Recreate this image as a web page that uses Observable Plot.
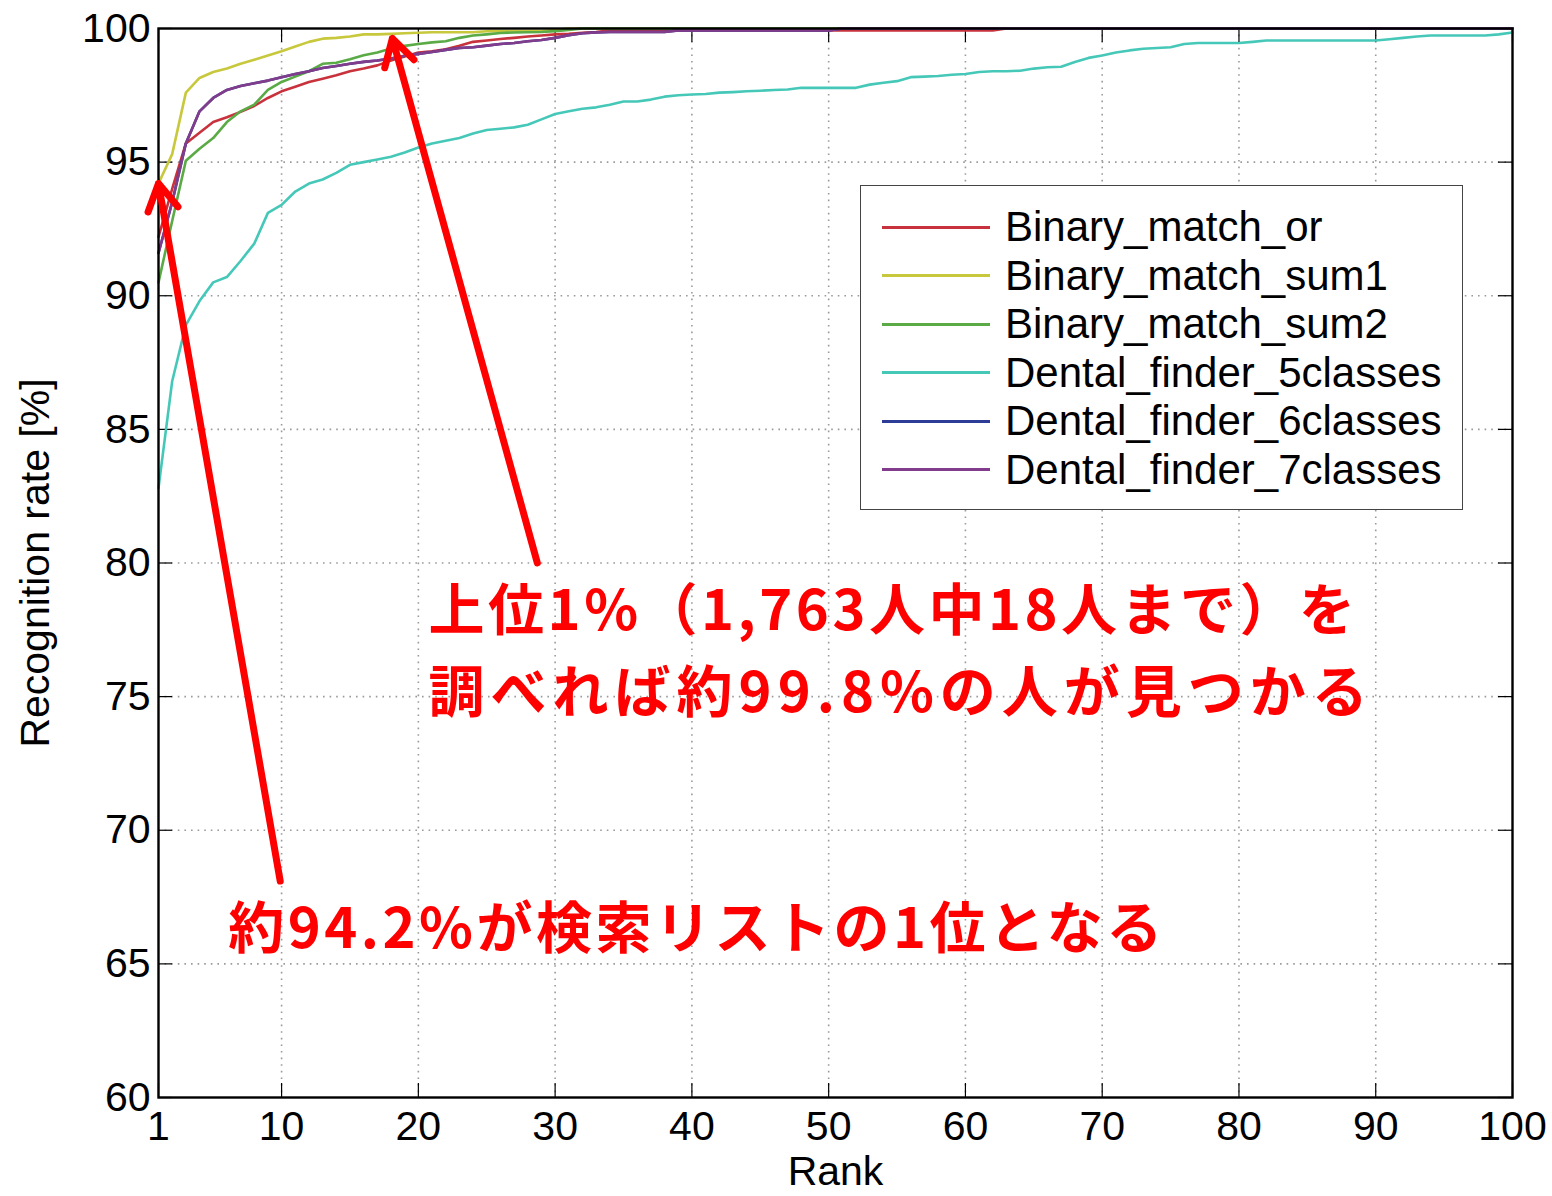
<!DOCTYPE html>
<html><head><meta charset="utf-8">
<script src="https://cdn.jsdelivr.net/npm/d3@7"></script>
<script src="https://cdn.jsdelivr.net/npm/@observablehq/plot@0.6"></script>
<style>
body{margin:0;background:#fff;}
#wrap{position:relative;width:1552px;height:1196px;}
#legend{position:absolute;left:860px;top:185px;width:603px;height:325px;border:1.5px solid #444;background:#fff;box-sizing:border-box;padding-top:17px;font-family:"Liberation Sans",Arial,sans-serif;font-size:42px;color:#000;}
.row{height:48.5px;display:flex;align-items:center;white-space:nowrap;}
.sw{width:108px;height:3px;margin-left:21px;margin-right:15px;flex:none;}
</style></head><body><div id="wrap"></div>
<script>
// ---- data ----
const ranks = d3.range(1, 101);
const seriesNames = ["Binary_match_or","Binary_match_sum1","Binary_match_sum2","Dental_finder_5classes","Dental_finder_6classes","Dental_finder_7classes"];
const seriesColors = ["#c8323c","#c8c83c","#5aaa46","#46c8b9","#2d3c96","#823c8c"];

const binaryOr = [92.2,94.0,95.7,96.1,96.5,96.68,96.88,97.1,97.4,97.65,
 97.82,98.0,98.12,98.25,98.4,98.5,98.62,98.8,98.95,99.1,
 99.15,99.22,99.35,99.5,99.55,99.61,99.65,99.7,99.74,99.78,
 99.8,99.84,99.87,99.93,99.93,99.93,99.93,99.93,99.93,99.93,
 99.93,99.93,99.93,99.93,99.93,99.93,99.93,99.93,99.93,99.93,
 99.93,99.93,99.93,99.93,99.93,99.93,99.93,99.93,99.93,99.93,
 99.93,99.93,100,100,100,100,100,100,100,100,
 100,100,100,100,100,100,100,100,100,100,
 100,100,100,100,100,100,100,100,100,100,
 100,100,100,100,100,100,100,100,100,100];
const binarySum1 = [94.2,95.3,97.6,98.15,98.37,98.5,98.68,98.83,98.99,99.15,
 99.33,99.5,99.62,99.65,99.7,99.78,99.78,99.8,99.82,99.84,
 99.86,99.86,99.86,99.86,99.9,99.9,99.9,99.9,99.9,99.95,
 100,100,100,100,100,100,100,100,100,100,
 100,100,100,100,100,100,100,100,100,100,
 100,100,100,100,100,100,100,100,100,100,
 100,100,100,100,100,100,100,100,100,100,
 100,100,100,100,100,100,100,100,100,100,
 100,100,100,100,100,100,100,100,100,100,
 100,100,100,100,100,100,100,100,100,100];
const binarySum2 = [90.5,92.8,95.05,95.5,95.9,96.5,96.9,97.15,97.7,98.0,
 98.2,98.4,98.68,98.72,98.85,99.0,99.1,99.25,99.35,99.42,
 99.48,99.52,99.65,99.74,99.78,99.83,99.85,99.86,99.87,99.9,
 99.95,100,100,100,100,100,100,100,100,100,
 100,100,100,100,100,100,100,100,100,100,
 100,100,100,100,100,100,100,100,100,100,
 100,100,100,100,100,100,100,100,100,100,
 100,100,100,100,100,100,100,100,100,100,
 100,100,100,100,100,100,100,100,100,100,
 100,100,100,100,100,100,100,100,100,100];
const finder5 = [82.8,86.8,88.9,89.8,90.5,90.7,91.3,91.95,93.1,93.4,
 93.9,94.2,94.35,94.6,94.9,95.0,95.1,95.2,95.36,95.55,
 95.7,95.8,95.9,96.07,96.2,96.25,96.3,96.4,96.6,96.8,
 96.9,97.0,97.05,97.15,97.27,97.27,97.34,97.45,97.5,97.53,
 97.55,97.6,97.62,97.65,97.67,97.7,97.72,97.78,97.78,97.78,
 97.78,97.78,97.9,97.97,98.03,98.18,98.2,98.22,98.27,98.3,
 98.37,98.4,98.4,98.42,98.5,98.55,98.57,98.75,98.9,98.99,
 99.1,99.18,99.24,99.27,99.3,99.42,99.46,99.46,99.46,99.46,
 99.5,99.55,99.55,99.55,99.55,99.55,99.55,99.55,99.55,99.55,
 99.6,99.65,99.7,99.74,99.74,99.74,99.74,99.74,99.78,99.85];
const finder6 = [91.6,93.5,95.7,96.9,97.4,97.7,97.85,97.95,98.05,98.18,
 98.3,98.4,98.52,98.6,98.68,98.75,98.8,98.88,98.98,99.05,
 99.12,99.2,99.27,99.3,99.36,99.42,99.46,99.52,99.57,99.65,
 99.75,99.82,99.85,99.87,99.87,99.87,99.87,99.87,99.93,99.93,
 99.93,99.93,99.93,99.93,99.93,99.93,99.93,99.93,99.93,99.93,
 100,100,100,100,100,100,100,100,100,100,
 100,100,100,100,100,100,100,100,100,100,
 100,100,100,100,100,100,100,100,100,100,
 100,100,100,100,100,100,100,100,100,100,
 100,100,100,100,100,100,100,100,100,100];
const finder7 = [91.6,93.5,95.7,96.9,97.4,97.7,97.85,97.95,98.05,98.18,
 98.3,98.4,98.52,98.6,98.68,98.75,98.8,98.88,98.98,99.05,
 99.12,99.2,99.27,99.3,99.36,99.42,99.46,99.52,99.57,99.65,
 99.75,99.82,99.85,99.87,99.87,99.87,99.87,99.87,99.93,99.93,
 99.93,99.93,99.93,99.93,99.93,99.93,99.93,99.93,99.93,99.93,
 100,100,100,100,100,100,100,100,100,100,
 100,100,100,100,100,100,100,100,100,100,
 100,100,100,100,100,100,100,100,100,100,
 100,100,100,100,100,100,100,100,100,100,
 100,100,100,100,100,100,100,100,100,100];

const xTicks = [1,10,20,30,40,50,60,70,80,90,100];
const xGrid = [10,20,30,40,50,60,70,80,90];
const yTicks = [60,65,70,75,80,85,90,95,100];
const yGrid = [65,70,75,80,85,90,95];

const noteTexts = ["上位1%（1,763人中18人まで）を","調べれば約99.8%の人が見つかる","約94.2%が検索リストの1位となる"];
const noteRanks = [20.75, 20.75, 6.1];
const noteRates = [78.18, 75.1, 66.25];
const noteSpacing = [3.5, 6, 3.5];

const arrowFromRank = [9.9, 28.7];
const arrowFromRate = [68.1, 80.0];
const arrowToRank = [1.0, 18.1];
const arrowToRate = [94.2, 99.63];

// ---- build tables ----
const seriesValues = [binaryOr, binarySum1, binarySum2, finder5, finder6, finder7];
const rows = [];
seriesNames.forEach((name, s) => ranks.forEach((r, i) => rows.push({series: name, rank: r, rate: seriesValues[s][i]})));
const notes = noteTexts.map((t, i) => ({text: t, rank: noteRanks[i], rate: noteRates[i]}));
const arrows = arrowFromRank.map((r, i) => ({x1: r, y1: arrowFromRate[i], x2: arrowToRank[i], y2: arrowToRate[i]}));

const W = 1552, H = 1196, mL = 158, mR = 40, mT = 28, mB = 99;
const innerW = W - mL - mR, innerH = H - mT - mB;

const chart = Plot.plot({
  width: W, height: H,
  marginLeft: mL, marginRight: mR, marginTop: mT, marginBottom: mB,
  style: {fontFamily: '"Liberation Sans", Arial, sans-serif', fontSize: "41px", color: "#000", background: "#fff", overflow: "visible"},
  x: {domain: [1, 100]},
  y: {domain: [60, 100]},
  color: {domain: seriesNames, range: seriesColors},
  marks: [
    Plot.ruleX(xGrid, {x: d => d, stroke: "#9a9a9a", strokeWidth: 1.6, strokeDasharray: "1.6,5", strokeOpacity: 1}),
    Plot.ruleY(yGrid, {y: d => d, stroke: "#9a9a9a", strokeWidth: 1.6, strokeDasharray: "1.6,5", strokeOpacity: 1}),
    Plot.ruleX(xTicks, {x: d => d, insetTop: innerH - 14, stroke: "#000", strokeWidth: 1.2}),
    Plot.ruleX(xTicks, {x: d => d, insetBottom: innerH - 14, stroke: "#000", strokeWidth: 1.2}),
    Plot.ruleY(yTicks, {y: d => d, insetRight: innerW - 14, stroke: "#000", strokeWidth: 1.2}),
    Plot.ruleY(yTicks, {y: d => d, insetLeft: innerW - 14, stroke: "#000", strokeWidth: 1.2}),
    Plot.line(rows, {x: "rank", y: "rate", z: "series", stroke: "series", strokeWidth: 2.6}),
    Plot.frame({stroke: "#000", strokeWidth: 2.4}),
    Plot.axisX({ticks: xTicks, tickSize: 0, tickPadding: 13, fontSize: 41, label: null}),
    Plot.axisY({ticks: yTicks, tickSize: 0, tickPadding: 8, fontSize: 41, label: null}),
    Plot.text(["Rank"], {text: d => d, frameAnchor: "bottom", lineAnchor: "middle", dy: 74, fontSize: 41}),
    Plot.text(["Recognition rate [%]"], {text: d => d, frameAnchor: "left", textAnchor: "middle", lineAnchor: "middle", dx: -123, rotate: -90, fontSize: 41}),
    Plot.arrow(arrows, {x1: "x1", y1: "y1", x2: "x2", y2: "y2", stroke: "#ff0000", strokeWidth: 7, headLength: 6.5, strokeOpacity: 1}),
    Plot.text(notes, {x: "rank", y: "rate", text: "text", textAnchor: "start", lineAnchor: "middle", fill: "#ff0000", fontSize: 56, fontWeight: "bold", fontFamily: '"Noto Sans CJK JP", sans-serif'})
  ]
});
const wrap = document.getElementById("wrap");
wrap.appendChild(chart);

// letter spacing for the annotation lines
chart.querySelectorAll("text").forEach(el => {
  const k = noteTexts.indexOf(el.textContent);
  if (k >= 0) {
    el.setAttribute("letter-spacing", noteSpacing[k]);
    el.style.letterSpacing = noteSpacing[k] + "px";
  }
});

const legend = document.createElement("div");
legend.id = "legend";
seriesNames.forEach((n, i) => {
  const row = document.createElement("div");
  row.className = "row";
  const sw = document.createElement("span");
  sw.className = "sw";
  sw.style.background = seriesColors[i];
  const t = document.createElement("span");
  t.textContent = n;
  row.appendChild(sw); row.appendChild(t);
  legend.appendChild(row);
});
wrap.appendChild(legend);
</script></body></html>
